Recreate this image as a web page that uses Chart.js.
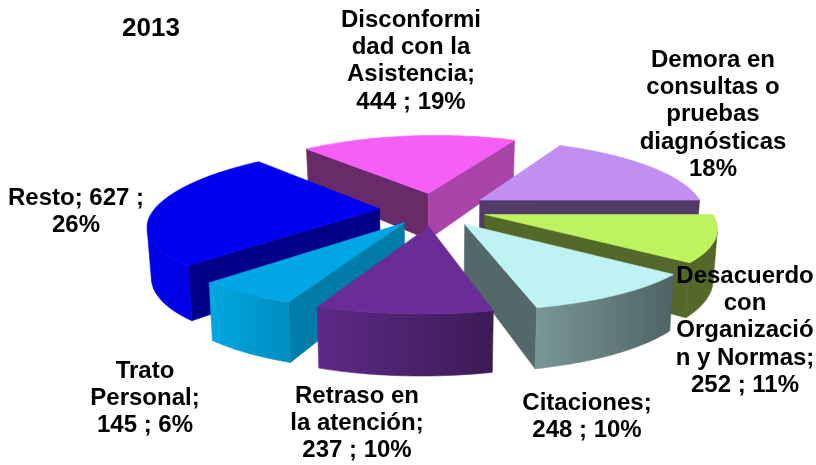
<!DOCTYPE html>
<html><head><meta charset="utf-8">
<style>html,body{margin:0;padding:0;background:#fff}canvas{display:block}</style>
<script src="https://cdn.jsdelivr.net/npm/chart.js@4"></script>
</head><body><canvas id="c" width="816" height="465"></canvas>
<script>
// ---- data ----
const categories = ["Disconformidad con la Asistencia","Demora en consultas o pruebas diagnósticas","Desacuerdo con Organización y Normas","Citaciones","Retraso en la atención","Trato Personal","Resto"];
const values = [444, 430, 252, 248, 237, 145, 627];
const chartTitle = "2013";
const labelLines = [
  ["Disconformi","dad con la","Asistencia;","444 ; 19%"],
  ["Demora en","consultas o","pruebas","diagnósticas","18%"],
  ["Desacuerdo","con","Organizació","n y Normas;","252 ; 11%"],
  ["Citaciones;","248 ; 10%"],
  ["Retraso en","la atención;","237 ; 10%"],
  ["Trato","Personal;","145 ; 6%"],
  ["Resto; 627 ;","26%"]
];
// ---- style ----
const topColors  = ["#f55ff5","#c18ff2","#bef25e","#bff3f3","#6a2d95","#00a7e4","#0000f0"];
const startWall  = ["#682a68","#523a69","#536829","#536868","#401d5a","#007ca8","#000088"];
const endWall    = ["#a945a9","#523a69","#536829","#536868","#57287e","#007ca8","#0000e0"];
const arcLeft    = ["#a945a9","#523a69","#536829","#7a9696","#5d2a86","#00a8e0","#0000e6"];
const arcRight   = ["#a945a9","#523a69","#536829","#4f6464","#3c1b56","#008dc0","#0000e6"];
const offsets    = [48,50,49,52,50,47,50];
const labelX     = [411,713,745,587,357,145,76];
const labelY     = [20,60,276,403,396,371,198];
const titlePos   = [151,29];
const font = 'bold 24px "Liberation Sans", Arial, sans-serif';
const titleFont = 'bold 26px "Liberation Sans", Arial, sans-serif';
const lineH = 27.3;
const view = {cx:434, cy:209, rx:225, ry:70, depth:48, perspX:0.183, perspY:0.138, skew:-7, shrink:0.985};

function project(u,v,z){
  const s=1/(1-view.perspX*v), t=1/(1-view.perspY*v);
  return [view.cx+view.skew*v+view.rx*u*s*(z?view.shrink:1), view.cy+view.ry*v*t+z*view.depth*s];
}
function poly(ctx,pts,color){
  ctx.beginPath();pts.forEach((p,i)=>i?ctx.lineTo(p[0],p[1]):ctx.moveTo(p[0],p[1]));ctx.closePath();
  ctx.fillStyle=color;ctx.strokeStyle=color;ctx.lineWidth=0.6;ctx.fill();ctx.stroke();
}
function area(p){let a=0;for(let i=0;i<p.length;i++){const q=p[(i+1)%p.length];a+=p[i][0]*q[1]-q[0]*p[i][1];}return a/2;}

const pie3d = {
  id:'pie3d',
  beforeDatasetDraw(){return false;},
  afterDatasetsDraw(chart){
    const ctx=chart.ctx, arcs=chart.getDatasetMeta(0).data;
    const order=arcs.map((el,i)=>i).sort((a,b)=>Math.sin((arcs[a].startAngle+arcs[a].endAngle)/2)-Math.sin((arcs[b].startAngle+arcs[b].endAngle)/2));
    ctx.save();
    order.forEach(i=>{
      const el=arcs[i], R=el.outerRadius, a0=el.startAngle, a1=el.endAngle, mid=(a0+a1)/2;
      const e=(el.options.offset||0)/R, ox=Math.cos(mid)*e, oy=Math.sin(mid)*e;
      const rim=(a,z)=>project(ox+Math.cos(a),oy+Math.sin(a),z), apex=z=>project(ox,oy,z);
      const N=48, at=k=>a0+(a1-a0)*k/N;
      // radial walls
      const w0=[apex(0),rim(a0,0),rim(a0,1),apex(1)], w1=[apex(0),apex(1),rim(a1,1),rim(a1,0)];
      if(area(w0)<0) poly(ctx,w0,startWall[i]);
      if(area(w1)<0) poly(ctx,w1,endWall[i]);
      // outer wall: the visible run of the rim, one path with a gradient
      const upper=[],lower=[];
      for(let k=0;k<=N;k++){
        const prev=k>0?[rim(at(k-1),0),rim(at(k),0),rim(at(k),1),rim(at(k-1),1)]:null;
        const next=k<N?[rim(at(k),0),rim(at(k+1),0),rim(at(k+1),1),rim(at(k),1)]:null;
        if((prev&&area(prev)<0)||(next&&area(next)<0)){upper.push(rim(at(k),0));lower.unshift(rim(at(k),1));}
      }
      if(upper.length){
        const xs=upper.map(p=>p[0]),x0=Math.min(...xs),x1=Math.max(...xs);
        const g=ctx.createLinearGradient(x0,0,x1,0);
        g.addColorStop(0,arcLeft[i]);g.addColorStop(1,arcRight[i]);
        poly(ctx,upper.concat(lower),g);
      }
      // top
      const top=[apex(0)];
      for(let k=0;k<=N;k++) top.push(rim(at(k),0));
      poly(ctx,top,el.options.backgroundColor);
    });
    // text
    ctx.fillStyle='#000';ctx.textAlign='center';ctx.textBaseline='middle';
    ctx.font=titleFont;ctx.fillText(chartTitle,titlePos[0],titlePos[1]);
    ctx.font=font;
    labelLines.forEach((lines,i)=>lines.forEach((t,j)=>ctx.fillText(t,labelX[i],labelY[i]+j*lineH)));
    ctx.restore();
  }
};

new Chart(document.getElementById('c'),{
  type:'pie',
  data:{labels:categories,datasets:[{data:values,backgroundColor:topColors,offset:offsets,borderWidth:0}]},
  options:{responsive:false,animation:false,rotation:-42,layout:{padding:0},
    plugins:{legend:{display:false},tooltip:{enabled:false},title:{display:false}}},
  plugins:[pie3d]
});
</script></body></html>
